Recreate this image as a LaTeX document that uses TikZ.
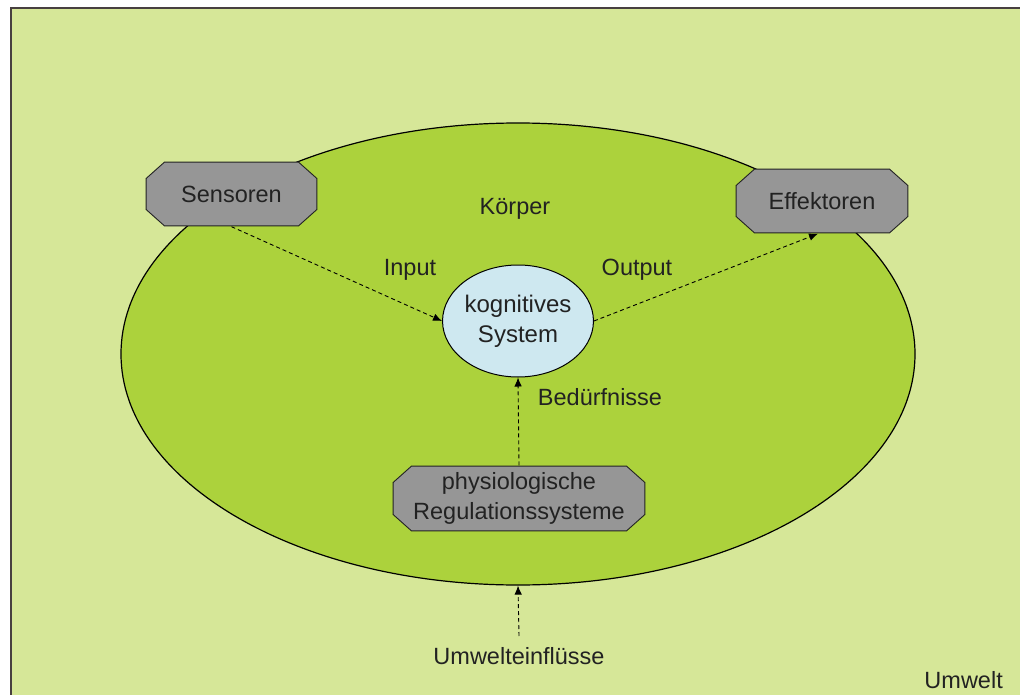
\documentclass[tikz,border=0pt]{standalone}
\usepackage{fontspec}
\setmainfont{Liberation Sans}
\usetikzlibrary{shapes.geometric,arrows.meta}
\definecolor{envgreen}{RGB}{214,231,152}
\definecolor{bodygreen}{RGB}{172,210,60}
\definecolor{boxgray}{RGB}{150,150,150}
\definecolor{cogblue}{RGB}{206,232,240}
\definecolor{inkgray}{RGB}{34,34,34}
\definecolor{framegray}{RGB}{72,64,64}
\begin{document}
\begin{tikzpicture}[x=1pt,y=-1pt,
  every node/.style={font=\fontsize{23.5}{27}\selectfont, text=inkgray},
  % octagonal box: the outline is drawn inside the node's own rectangle
  octbox/.style={rectangle, inner sep=0pt, align=center,
    path picture={
      \draw[fill=boxgray, draw=inkgray, line width=0.9pt, line join=miter]
        ([xshift=19pt,yshift=-0.6pt]path picture bounding box.north west)
        -- ([xshift=-19pt,yshift=-0.6pt]path picture bounding box.north east)
        -- ([xshift=-0.6pt,yshift=-17pt]path picture bounding box.north east)
        -- ([xshift=-0.6pt,yshift=17pt]path picture bounding box.south east)
        -- ([xshift=-19pt,yshift=0.6pt]path picture bounding box.south east)
        -- ([xshift=19pt,yshift=0.6pt]path picture bounding box.south west)
        -- ([xshift=0.6pt,yshift=17pt]path picture bounding box.south west)
        -- ([xshift=0.6pt,yshift=-17pt]path picture bounding box.north west)
        -- cycle;}},
  flow/.style={draw=black, line width=0.9pt, dash pattern=on 4pt off 3pt,
    -{Latex[length=9pt,width=7.5pt]}},
  lbl/.style={inner sep=0pt, anchor=center}]
  \useasboundingbox (0,0) rectangle (1020,695);
  % environment
  \fill[envgreen] (10.5,8) rectangle (1020,695);
  \draw[framegray, line width=2pt] (10.5,695) -- (10.5,8) -- (1020,8);
  % body
  \node[ellipse, draw=black, line width=1.2pt, fill=bodygreen,
    minimum width=794pt, minimum height=462pt, inner sep=0pt] (body) at (518,354) {};
  % cognitive system
  \node[ellipse, draw=black, line width=1pt, fill=cogblue,
    minimum width=150pt, minimum height=112pt, inner sep=0pt, align=center,
    font=\fontsize{24}{30}\selectfont] (cog) at (518,321) {kognitives\\System};
  % boxes
  \node[octbox, minimum width=172pt, minimum height=65pt] (sens) at (231.5,194) {Sensoren};
  \node[octbox, minimum width=173pt, minimum height=65pt] (eff) at (822,201) {Effektoren};
  \node[octbox, minimum width=253pt, minimum height=66pt,
    font=\fontsize{23.5}{30}\selectfont] (phys) at (519,498.5) {physiologische\\Regulationssysteme};
  % labels
  \node[lbl] (koerper) at (515,209) {Körper};
  \node[lbl] (inp) at (410,270) {Input};
  \node[lbl] (outp) at (637,270) {Output};
  \node[lbl] (need) at (600,397) {Bedürfnisse};
  \node[lbl] (env) at (519,656) {Umwelteinflüsse};
  \node[lbl, anchor=east] (umwelt) at (1003,680) {Umwelt};
  \coordinate (envtop) at (519,636);
  % flows
  \draw[flow] (sens.south) -- (cog.west);
  \draw[flow] (cog.east) -- ([xshift=-4pt]eff.south);
  \draw[flow] (phys.north) -- (cog.south);
  \draw[flow] (envtop) -- (body.south);
\end{tikzpicture}
\end{document}
